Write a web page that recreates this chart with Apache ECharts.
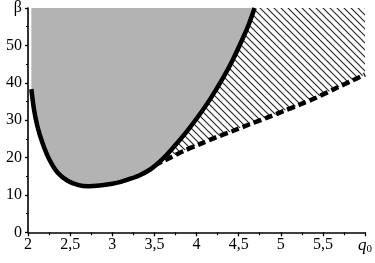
<!DOCTYPE html>
<html>
<head>
<meta charset="utf-8">
<script src="https://cdn.jsdelivr.net/npm/echarts@6/dist/echarts.min.js"></script>
<style>
html,body{margin:0;padding:0;background:#fff;}
#chart{width:375px;height:263px;}
</style>
</head>
<body>
<div id="chart"></div>
<script>
// Solid boundary curve (q0, beta)
const solidX = [2.04, 2.07, 2.11, 2.17, 2.25, 2.35, 2.47, 2.6, 2.72, 2.85, 3.0, 3.1, 3.2, 3.32, 3.45, 3.55, 3.65, 3.76, 3.9, 4.03, 4.17, 4.31, 4.43, 4.55, 4.62, 4.69];
const solidY = [38.3, 33, 28.5, 24, 19.6, 16.0, 13.8, 12.6, 12.3, 12.5, 13.0, 13.5, 14.2, 15.2, 16.8, 18.6, 20.8, 23.6, 27.4, 31.3, 35.9, 41.1, 46.1, 51.9, 55.6, 60];
// Dashed boundary curve
const dashedX = [3.5, 3.6, 3.7, 3.84, 4.04, 4.23, 4.43, 4.63, 4.83, 5.03, 5.23, 5.42, 5.66, 5.85, 6.0];
const dashedY = [18.0, 19.0, 20.1, 21.7, 23.6, 25.4, 27.1, 28.9, 30.6, 32.4, 34.2, 36.0, 38.6, 40.6, 42.2];
// Axis ticks
const xTicks = [2, 2.5, 3, 3.5, 4, 4.5, 5, 5.5, 6];
const yTicks = [0, 10, 20, 30, 40, 50, 60];
const xName = 'q';
const xSub = '0';
const yName = 'β';

function zip(a, b) { return a.map((v, i) => [v, b[i]]); }

function hatchPattern() {
  const s = 7;
  const c = document.createElement('canvas');
  c.width = s; c.height = s;
  const g = c.getContext('2d');
  g.strokeStyle = '#2a2a2a';
  g.lineWidth = 1.2;
  g.beginPath();
  g.moveTo(0, 0); g.lineTo(s, s);
  g.moveTo(-1, s - 1); g.lineTo(1, s + 1);
  g.moveTo(s - 1, -1); g.lineTo(s + 1, 1);
  g.stroke();
  return c;
}

const font = 'Liberation Serif';
const chart = echarts.init(document.getElementById('chart'), null, {renderer: 'canvas'});
chart.setOption({
  animation: false,
  backgroundColor: '#fff',
  grid: {left: 28, right: 10, top: 6.5, bottom: 30.7, containLabel: false},
  xAxis: {
    type: 'value', min: xTicks[0], max: xTicks[xTicks.length - 1], interval: 0.5,
    axisLine: {show: true, onZero: false, lineStyle: {color: '#000', width: 1.6}},
    axisTick: {show: true, length: 4, lineStyle: {color: '#000', width: 1.3}},
    minorTick: {show: true, splitNumber: 2, length: 3, lineStyle: {color: '#000', width: 1.2}},
    splitLine: {show: false},
    axisLabel: {
      margin: 4, color: '#000', fontFamily: font, fontSize: 16,
      formatter: function (v) {
        if (v === xTicks[xTicks.length - 1]) return '{q|' + xName + '}{s|' + xSub + '}';
        return String(v).replace('.', ',');
      },
      rich: {
        q: {fontFamily: font, fontStyle: 'italic', fontSize: 17, color: '#000'},
        s: {fontFamily: font, fontSize: 11, color: '#000', verticalAlign: 'bottom', padding: [7, 0, 0, 0]}
      }
    }
  },
  yAxis: {
    type: 'value', min: yTicks[0], max: yTicks[yTicks.length - 1], interval: 10,
    axisLine: {show: true, onZero: false, lineStyle: {color: '#000', width: 1.6}},
    axisTick: {show: true, length: 3, lineStyle: {color: '#000', width: 1.3}},
    minorTick: {show: true, splitNumber: 2, length: 2, lineStyle: {color: '#000', width: 1.2}},
    splitLine: {show: false},
    axisLabel: {
      margin: 6, color: '#000', fontFamily: font, fontSize: 16,
      formatter: function (v) {
        if (v === yTicks[yTicks.length - 1]) return yName;
        return String(v);
      }
    }
  },
  series: [
    {
      type: 'line', data: zip(dashedX, dashedY), symbol: 'none', smooth: 0.3,
      lineStyle: {color: '#000', width: 4.5, type: [8, 4]},
      areaStyle: {origin: 'end', opacity: 1, color: {image: hatchPattern(), repeat: 'repeat'}},
      z: 2
    },
    {
      type: 'line', data: zip(solidX, solidY), symbol: 'none', smooth: 0.3,
      lineStyle: {color: '#000', width: 4.5},
      areaStyle: {origin: 'end', opacity: 1, color: '#b3b3b3'},
      z: 3
    }
  ]
});
</script>
</body>
</html>
